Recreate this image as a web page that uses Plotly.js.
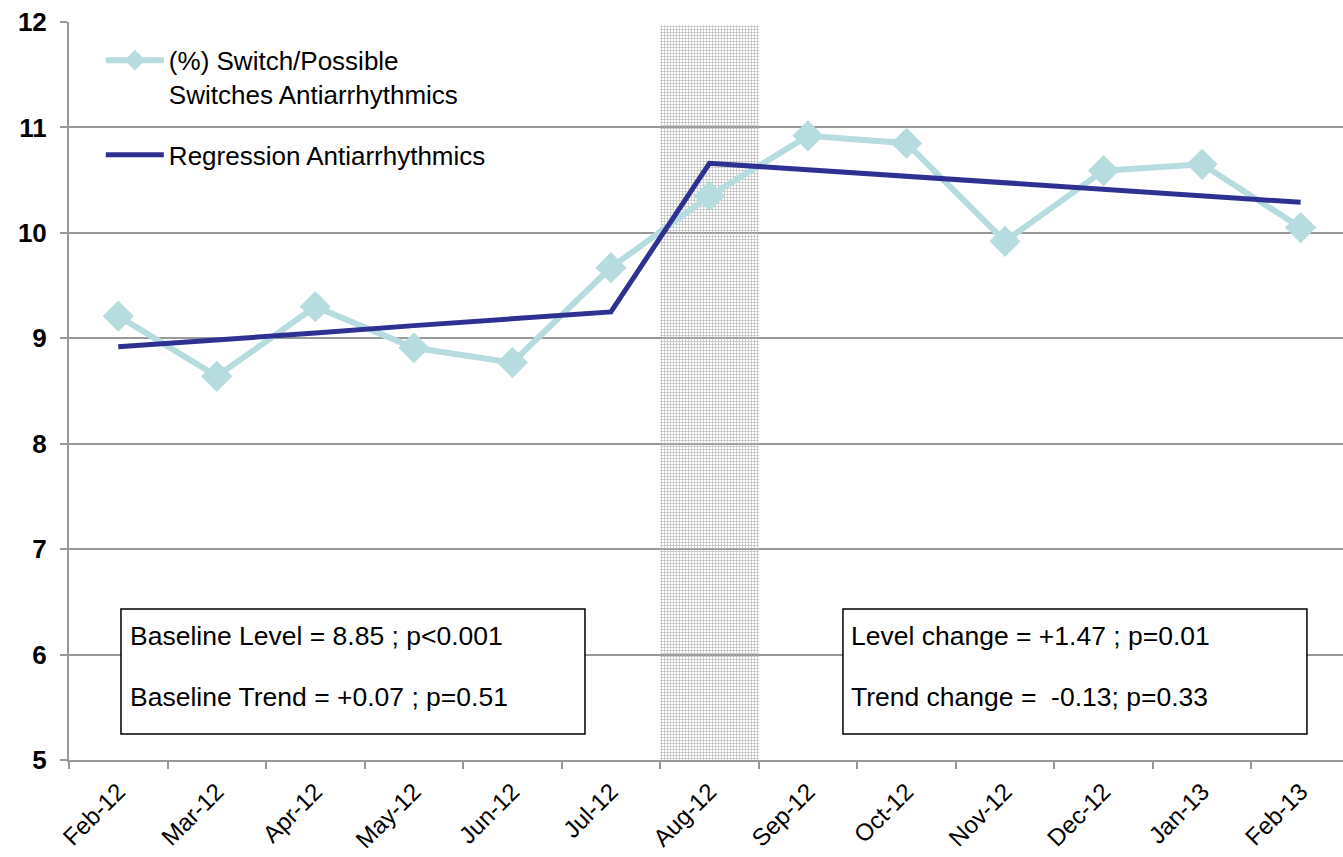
<!DOCTYPE html>
<html>
<head>
<meta charset="utf-8">
<script src="https://cdn.plot.ly/plotly-3.0.1.min.js"></script>
<style>html,body{margin:0;padding:0;background:#fff;}#chart{width:1343px;height:857px;}</style>
</head>
<body>
<div id="chart"></div>
<script>
const categories = ['Feb-12','Mar-12','Apr-12','May-12','Jun-12','Jul-12','Aug-12','Sep-12','Oct-12','Nov-12','Dec-12','Jan-13','Feb-13'];
const switchPct = [9.21, 8.64, 9.30, 8.91, 8.77, 9.67, 10.35, 10.92, 10.85, 9.92, 10.59, 10.65, 10.05];
const regression = [8.92, 8.98, 9.05, 9.12, 9.18, 9.25, 10.66, 10.60, 10.54, 10.48, 10.42, 10.35, 10.29];
const interventionMonth = ['Aug-12'];
const interventionBase = [5];
const interventionHeight = [6.97];
const yTickVals = [5, 6, 7, 8, 9, 10, 11, 12];
const statsLeft = ['Baseline Level = 8.85 ; p<0.001', 'Baseline Trend = +0.07 ; p=0.51'];
const statsRight = ['Level change = +1.47 ; p=0.01', 'Trend change =  -0.13; p=0.33'];

const FONT = 'Arial, "Liberation Sans", sans-serif';

const traces = [
  {
    type: 'bar', x: interventionMonth, y: interventionHeight, base: interventionBase, width: 1,
    marker: {color: '#d2d2d2', line: {width: 0},
      pattern: {shape: '+', fgcolor: '#b0b0b0', size: 3, solidity: 0.35}},
    showlegend: false, hoverinfo: 'skip'
  },
  {
    type: 'scatter', mode: 'lines+markers', x: categories, y: switchPct,
    name: '(%) Switch/Possible<br>Switches Antiarrhythmics',
    line: {color: '#b6dcdf', width: 6},
    marker: {symbol: 'diamond', size: 24, color: '#b6dcdf'},
    legendgroup: 'a'
  },
  {
    type: 'scatter', mode: 'lines', x: categories, y: regression,
    name: 'Regression Antiarrhythmics',
    line: {color: '#2e3192', width: 5},
    legendgroup: 'b'
  }
];

function boxShape(x0, x1) {
  return {type: 'rect', xref: 'paper', yref: 'paper', x0: x0, x1: x1, y0: 0.0352, y1: 0.2046,
    line: {color: '#000', width: 1.5}, fillcolor: '#fff', layer: 'above'};
}
function lineAnn(x, y, text) {
  return {xref: 'paper', yref: 'paper', x: x, y: y, xanchor: 'left', yanchor: 'middle',
    text: text, showarrow: false, font: {family: FONT, size: 26.5, color: '#000'}};
}

const layout = {
  width: 1343, height: 857,
  margin: {l: 69, r: 0, t: 22, b: 97},
  paper_bgcolor: '#fff', plot_bgcolor: '#fff',
  font: {family: FONT, color: '#000'},
  showlegend: true,
  legend: {x: 0.025, y: 0.98, xanchor: 'left', yanchor: 'top', bgcolor: 'rgba(0,0,0,0)',
    font: {family: FONT, size: 26, color: '#000'}, tracegroupgap: 24, itemwidth: 58, valign: 'top',
    traceorder: 'grouped'},
  xaxis: {
    type: 'category', categoryorder: 'array', categoryarray: categories,
    range: [-0.5, 12.43], tickson: 'boundaries',
    ticks: 'outside', ticklen: 7, tickwidth: 2, tickcolor: '#999',
    showline: true, linecolor: '#999', linewidth: 2, showgrid: false,
    tickangle: -45, tickfont: {family: FONT, size: 24, color: '#000'}, zeroline: false,
    ticklabelstandoff: 6
  },
  yaxis: {
    range: [5, 12], tickvals: yTickVals, ticks: 'outside', ticklen: 7, tickwidth: 2, tickcolor: '#999',
    showline: true, linecolor: '#999', linewidth: 2, showgrid: true, gridcolor: '#999', gridwidth: 2,
    zeroline: false, tickfont: {family: FONT, size: 26, color: '#000', weight: 'bold'}, ticklabelstandoff: 8
  },
  shapes: [boxShape(0.0408, 0.405), boxShape(0.6075, 0.9717)],
  annotations: [
    lineAnn(0.0465, 0.168, statsLeft[0]), lineAnn(0.0465, 0.0854, statsLeft[1]),
    lineAnn(0.6125, 0.168, statsRight[0]), lineAnn(0.6125, 0.0854, statsRight[1])
  ]
};

Plotly.newPlot('chart', traces, layout, {staticPlot: true});
</script>
</body>
</html>
